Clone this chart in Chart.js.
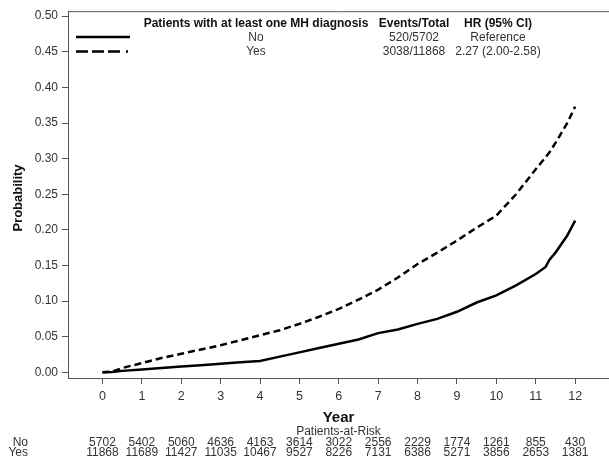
<!DOCTYPE html>
<html>
<head>
<meta charset="utf-8">
<script src="https://cdn.jsdelivr.net/npm/chart.js@4"></script>
<style>
  html, body { margin: 0; padding: 0; background: #fff; }
  #wrap { width: 609px; height: 458px; }
</style>
</head>
<body>
<div id="wrap"><canvas id="km-chart"></canvas></div>
<script>
// Cumulative probability
const years = [0, 0.25, 0.5, 1, 1.5, 2, 2.5, 3, 3.5, 4, 4.5, 5, 5.5, 6, 6.5, 7, 7.5, 8, 8.5, 9, 9.5, 10, 10.5, 11, 11.25, 11.35, 11.5, 11.8, 12];
const probNo = [0, 0.0005, 0.002, 0.004, 0.006, 0.008, 0.010, 0.012, 0.014, 0.016, 0.022, 0.028, 0.034, 0.040, 0.046, 0.055, 0.060, 0.068, 0.075, 0.085, 0.098, 0.108, 0.122, 0.138, 0.148, 0.158, 0.168, 0.192, 0.213];
const probYes = [0, 0.001, 0.006, 0.013, 0.020, 0.026, 0.032, 0.038, 0.045, 0.052, 0.059, 0.068, 0.078, 0.089, 0.102, 0.116, 0.133, 0.152, 0.168, 0.185, 0.203, 0.220, 0.250, 0.285, 0.302, 0.309, 0.322, 0.350, 0.373];

const xTicks = [0, 1, 2, 3, 4, 5, 6, 7, 8, 9, 10, 11, 12];
const yTicks = [0, 0.05, 0.10, 0.15, 0.20, 0.25, 0.30, 0.35, 0.40, 0.45, 0.50];

// Patients-at-risk table
const riskGroups = ['No', 'Yes'];
const riskNo = [5702, 5402, 5060, 4636, 4163, 3614, 3022, 2556, 2229, 1774, 1261, 855, 430];
const riskYes = [11868, 11689, 11427, 11035, 10467, 9527, 8226, 7131, 6386, 5271, 3856, 2653, 1381];

// Legend table
const legendHeader = ['Patients with at least one MH diagnosis', 'Events/Total', 'HR (95% CI)'];
const legendRows = [
    ['No', '520/5702', 'Reference'],
    ['Yes', '3038/11868', '2.27 (2.00-2.58)']
];

const FONT = '"Liberation Sans", Arial, sans-serif';
const TEXT = '#333';
const AXIS = '#555';

const toPoints = (xs, ys) => xs.map((x, i) => ({ x: x, y: ys[i] }));

// Frame top line, legend block, axis titles and the at-risk rows
const annotations = {
    id: 'annotations',
    afterDraw(chart) {
        const ctx = chart.ctx;
        const area = chart.chartArea;
        const xs = chart.scales.x;
        ctx.save();

        ctx.strokeStyle = AXIS;
        ctx.lineWidth = 1;
        ctx.beginPath();
        ctx.moveTo(area.left, area.top + 0.5);
        ctx.lineTo(area.right, area.top + 0.5);
        ctx.stroke();

        // legend
        const cols = [256, 414, 498];
        ctx.textAlign = 'center';
        ctx.textBaseline = 'middle';
        ctx.fillStyle = '#111';
        ctx.font = 'bold 12px ' + FONT;
        legendHeader.forEach((t, i) => ctx.fillText(t, cols[i], 24));
        ctx.fillStyle = TEXT;
        ctx.font = '12px ' + FONT;
        legendRows.forEach((row, r) => {
            row.forEach((t, i) => ctx.fillText(t, cols[i], 37.5 + r * 14.5));
        });
        ctx.strokeStyle = '#000';
        ctx.lineWidth = 2.5;
        ctx.beginPath();
        ctx.moveTo(76, 37);
        ctx.lineTo(130, 37);
        ctx.stroke();
        ctx.setLineDash([12, 4, 12, 4, 12, 6, 2, 10]);
        ctx.beginPath();
        ctx.moveTo(76, 51.5);
        ctx.lineTo(130, 51.5);
        ctx.stroke();
        ctx.setLineDash([]);

        // y title
        ctx.fillStyle = '#111';
        ctx.font = 'bold 13px ' + FONT;
        ctx.translate(18, 198);
        ctx.rotate(-Math.PI / 2);
        ctx.fillText('Probability', 0, 0);
        ctx.setTransform(1, 0, 0, 1, 0, 0);

        // x title and patients at risk
        const mid = (area.left + area.right) / 2;
        ctx.font = 'bold 15px ' + FONT;
        ctx.fillText('Year', mid, 418);
        ctx.fillStyle = TEXT;
        ctx.font = '12px ' + FONT;
        ctx.fillText('Patients-at-Risk', mid, 432);
        [riskNo, riskYes].forEach((row, r) => {
            const y = 443 + r * 10;
            ctx.textAlign = 'right';
            ctx.fillText(riskGroups[r], 28, y);
            ctx.textAlign = 'center';
            row.forEach((n, i) => ctx.fillText(String(n), xs.getPixelForValue(xTicks[i]), y));
        });
        ctx.restore();
    }
};

new Chart(document.getElementById('km-chart'), {
    type: 'line',
    data: {
        datasets: [{
            label: 'No',
            data: toPoints(years, probNo),
            borderColor: '#000',
            borderWidth: 2.5,
            pointRadius: 0,
            tension: 0
        }, {
            label: 'Yes',
            data: toPoints(years, probYes),
            borderColor: '#000',
            borderWidth: 2.5,
            borderDash: [7, 4],
            pointRadius: 0,
            tension: 0
        }]
    },
    options: {
        responsive: true,
        maintainAspectRatio: false,
        animation: false,
        layout: { padding: { top: 11, right: 0, left: 0, bottom: 0 } },
        plugins: {
            legend: { display: false },
            tooltip: { enabled: false }
        },
        scales: {
            x: {
                type: 'linear',
                min: -0.875,
                max: 12.86,
                afterBuildTicks: (axis) => { axis.ticks = xTicks.map(v => ({ value: v })); },
                afterFit: (axis) => { axis.height = 80; },
                grid: { display: true, drawOnChartArea: false, drawTicks: true, tickLength: 6, color: AXIS },
                border: { display: true, color: AXIS, width: 1 },
                ticks: { color: TEXT, font: { family: FONT, size: 12.5 }, padding: 5, maxRotation: 0 }
            },
            y: {
                min: -0.008,
                max: 0.507,
                afterBuildTicks: (axis) => { axis.ticks = yTicks.map(v => ({ value: v })); },
                afterFit: (axis) => { axis.width = 68; },
                grid: { display: true, drawOnChartArea: false, drawTicks: true, tickLength: 6, color: AXIS },
                border: { display: true, color: AXIS, width: 1 },
                ticks: {
                    color: TEXT,
                    font: { family: FONT, size: 12 },
                    padding: 4,
                    callback: (v) => Number(v).toFixed(2)
                }
            }
        }
    },
    plugins: [annotations]
});
</script>
</body>
</html>
